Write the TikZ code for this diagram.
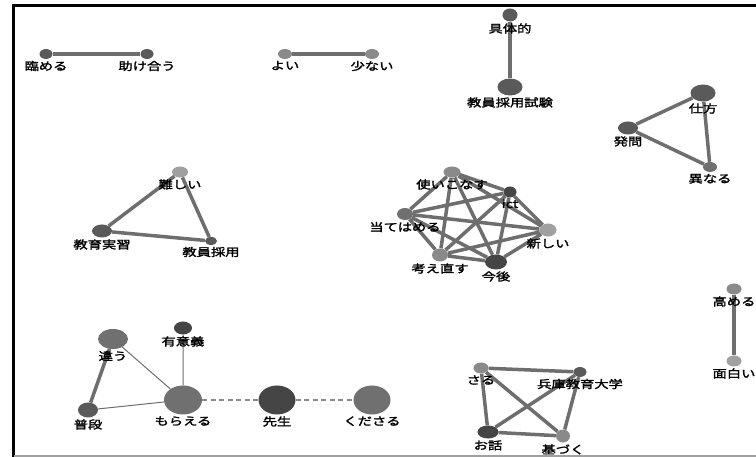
\documentclass[tikz,border=0pt]{standalone}
\usepackage{fontspec}
\newfontfamily\jpfont[FakeStretch=1.3,FakeBold=2]{Noto Sans CJK JP}
\usetikzlibrary{shapes.geometric,backgrounds}
\definecolor{c1}{HTML}{454545}
\definecolor{c2}{HTML}{5A5A5A}
\definecolor{c3}{HTML}{707070}
\definecolor{c4}{HTML}{8A8A8A}
\definecolor{c5}{HTML}{A0A0A0}
\definecolor{edgegray}{HTML}{6E6E6E}
\begin{document}
\begin{tikzpicture}[%
  x = 1pt, y = -1pt,
  word/.style args = {#1/#2}{ellipse, inner sep = 0pt, minimum width = #1pt, minimum height = #2pt},
  every label/.style = {font = \jpfont\fontsize{11}{12}\selectfont, inner sep = 0pt, text = black},
  label distance = 1.5pt,
  link/.style = {draw = edgegray, line width = 3.5pt},
  thinlink/.style = {draw = edgegray, line width = 1pt},
  weak/.style = {draw = c4, line width = 1.2pt, dash pattern = on 5pt off 3.5pt}]
  \useasboundingbox (0, 0) rectangle (756, 457);
  \draw[line width = 3pt] (13.5, 457) -- (13.5, 5.5) -- (756, 5.5);
  \draw[c5, line width = 1.5pt] (13.5, 456) -- (756, 456);

  \node[word = 13/10, fill = c2, label = below:臨める] (lin) at (46, 54) {};
  \node[word = 13/10, fill = c2, label = below:助け合う] (tas) at (147, 54) {};
  \node[word = 14/10, fill = c4, label = below:よい] (yoi) at (285, 54) {};
  \node[word = 14/10, fill = c4, label = below:少ない] (suk) at (372, 54) {};

  \node[word = 15/13, fill = c2, label = below:具体的] (gut) at (510, 15) {};
  \node[word = 25/17, fill = c2, label = below:教員採用試験] (sai) at (510, 87) {};

  \node[word = 25/17, fill = c2, label = below:仕方] (sik) at (703, 93) {};
  \node[word = 20/13, fill = c2, label = below:発問] (hat) at (628, 128) {};
  \node[word = 14/10, fill = c3, label = below:異なる] (kot) at (710, 167) {};

  \node[word = 16/11, fill = c5, label = below:難しい] (muz) at (180, 172) {};
  \node[word = 20/13, fill = c2, label = below:教育実習] (kjs) at (102, 231) {};
  \node[word = 12/8, fill = c2, label = below:教員採用] (kyo) at (211, 241) {};

  \node[word = 17/11, fill = c4, label = below:使いこなす] (tsu) at (452, 172) {};
  \node[word = 13/11, fill = c1, label = below:ict] (ict) at (510, 192) {};
  \node[word = 16/12, fill = c3, label = below:当てはめる] (ate) at (405, 214) {};
  \node[word = 17/13, fill = c5, label = below:新しい] (ata) at (548, 230) {};
  \node[word = 16/13, fill = c4, label = below:考え直す] (kan) at (440, 255) {};
  \node[word = 22/15, fill = c1, label = below:今後] (kon) at (496, 262) {};

  \node[word = 30/20, fill = c3, label = below:違う] (chi) at (113, 339) {};
  \node[word = 18/13, fill = c1, label = below:有意義] (yui) at (183, 328) {};
  \node[word = 20/15, fill = c2, label = below:普段] (fud) at (88, 410) {};
  \node[word = 38/29, fill = c3, label = below:もらえる] (mor) at (183, 400) {};
  \node[word = 37/29, fill = c1, label = below:先生] (sen) at (277, 400) {};
  \node[word = 37/29, fill = c3, label = below:くださる] (kud) at (372, 400) {};

  \node[word = 15/11, fill = c4, label = below:さる] (sar) at (481, 368) {};
  \node[word = 13/10, fill = c2, label = below:兵庫教育大学] (hyo) at (580, 372) {};
  \node[word = 21/13, fill = c1, label = below:お話] (ohn) at (488, 432) {};
  \node[word = 14/13, fill = c4, label = below:基づく] (mot) at (563, 436) {};

  \node[word = 15/11, fill = c4, label = below:高める] (tak) at (734, 289) {};
  \node[word = 15/11, fill = c5, label = below:面白い] (omo) at (734, 361) {};

  \begin{scope}[on background layer]
    \draw[link] (lin) -- (tas);
    \draw[link] (yoi) -- (suk);
    \draw[link] (gut) -- (sai);
    \draw[link] (sik) -- (hat) (sik) -- (kot) (hat) -- (kot);
    \draw[link] (muz) -- (kjs) (muz) -- (kyo) (kjs) -- (kyo);
    \draw[link] (tsu) -- (ict) (tsu) -- (ate) (tsu) -- (ata) (tsu) -- (kan) (tsu) -- (kon);
    \draw[link] (ict) -- (ate) (ict) -- (ata) (ict) -- (kan) (ict) -- (kon);
    \draw[link] (ate) -- (ata) (ate) -- (kan) (ate) -- (kon);
    \draw[link] (ata) -- (kan) (ata) -- (kon) (kan) -- (kon);
    \draw[link] (chi) -- (fud);
    \draw[thinlink] (chi) -- (mor) (yui) -- (mor) (fud) -- (mor);
    \draw[weak] (mor) -- (sen) (sen) -- (kud);
    \draw[link] (sar) -- (hyo) (sar) -- (ohn) (sar) -- (mot);
    \draw[link] (hyo) -- (ohn) (hyo) -- (mot) (ohn) -- (mot);
    \draw[link] (tak) -- (omo);
  \end{scope}
\end{tikzpicture}
\end{document}
